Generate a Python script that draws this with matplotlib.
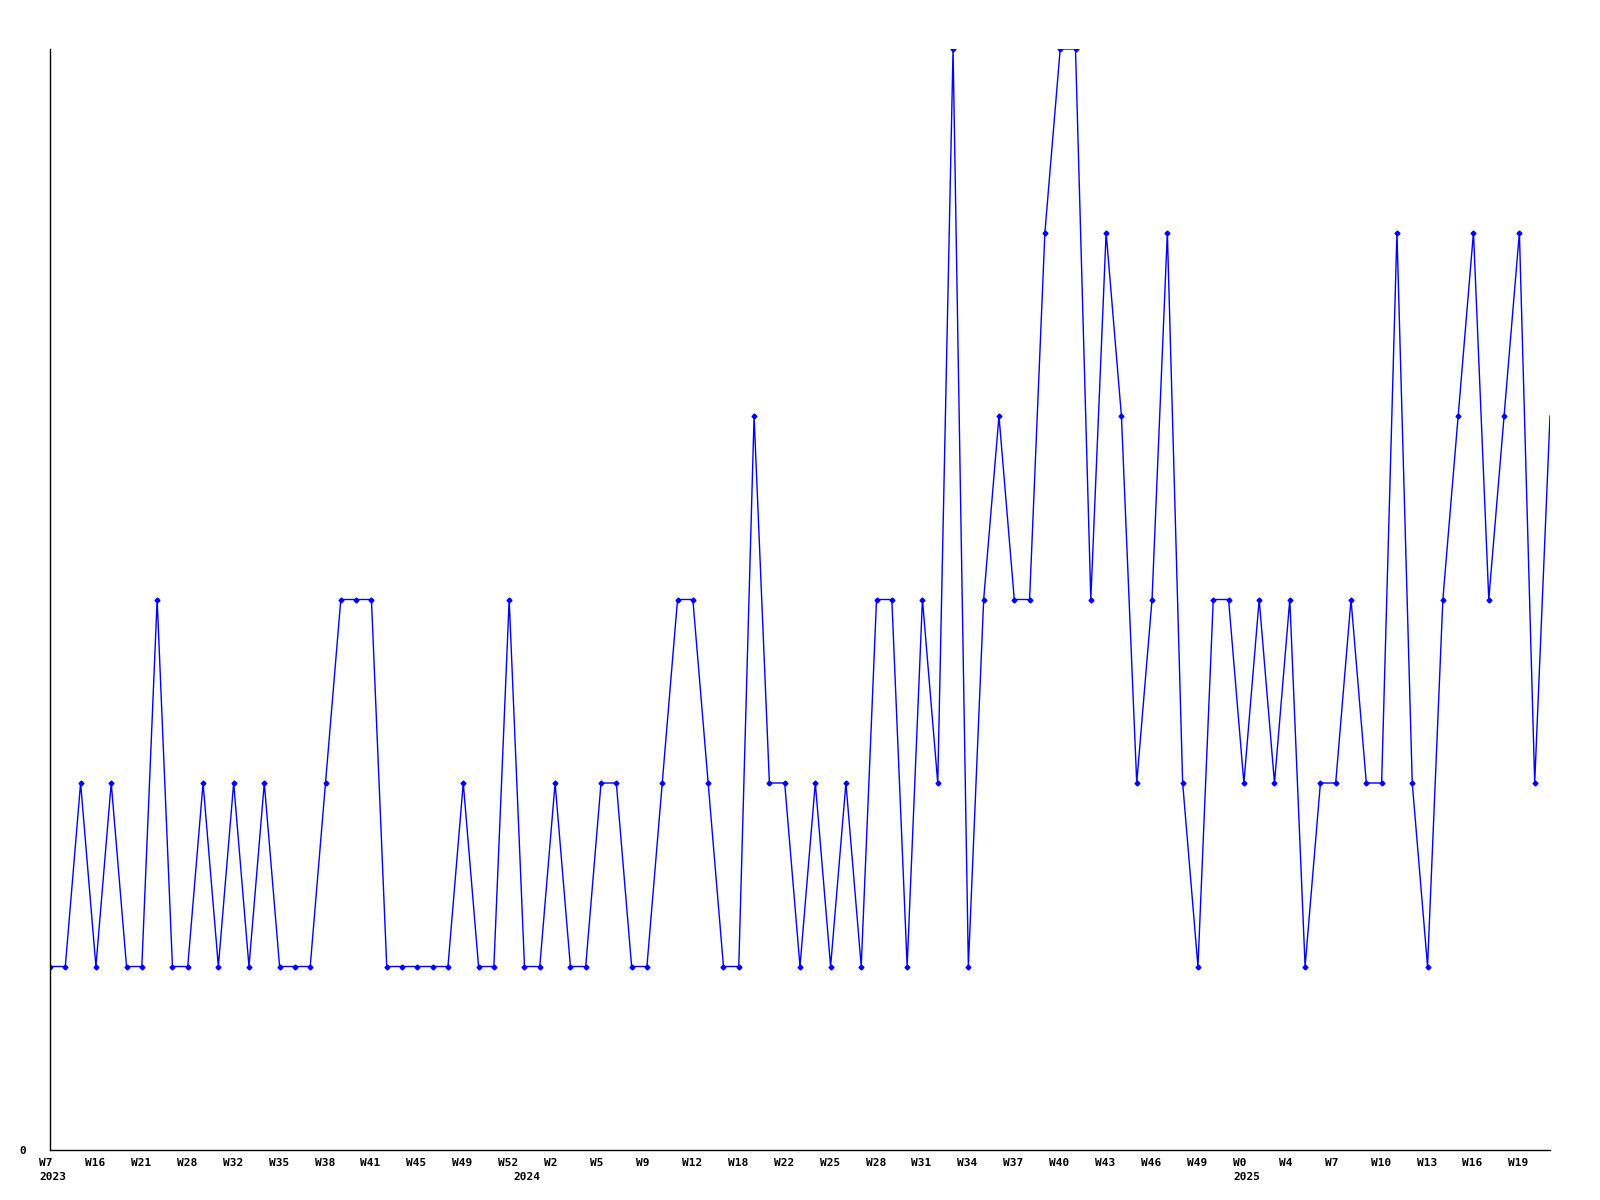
import matplotlib
matplotlib.use("Agg")
import matplotlib.pyplot as plt
import matplotlib.transforms as mtransforms

# ── Data ───────────────────────────────────────────────────────────────────────
counts = [
    1, 1, 2, 1, 2, 1, 1, 3, 1, 1, 2, 1, 2, 1, 2, 1, 1, 1, 2, 3,
    3, 3, 1, 1, 1, 1, 1, 2, 1, 1, 3, 1, 1, 2, 1, 1, 2, 2, 1, 1,
    2, 3, 3, 2, 1, 1, 4, 2, 2, 1, 2, 1, 2, 1, 3, 3, 1, 3, 2, 6,
    1, 3, 4, 3, 3, 5, 6, 6, 3, 5, 4, 2, 3, 5, 2, 1, 3, 3, 2, 3,
    2, 3, 1, 2, 2, 3, 2, 2, 5, 2, 1, 3, 4, 5, 3, 4, 5, 2, 4,
]

week_labels = [
    'W7', 'W16', 'W21', 'W28', 'W32', 'W35', 'W38', 'W41', 'W45', 'W49', 'W52',
    'W2', 'W5', 'W9', 'W12', 'W18', 'W22', 'W25', 'W28', 'W31', 'W34', 'W37',
    'W40', 'W43', 'W46', 'W49', 'W0', 'W4', 'W7', 'W10', 'W13', 'W16', 'W19',
]
years = ['2023', '2024', '2025']
year_start = [0, 31, 78]   # index of the first week of each year

# ── Plot ───────────────────────────────────────────────────────────────────────
fig = plt.figure(figsize=(16, 12), dpi=100)
ax = fig.add_axes([50 / 1600, 50 / 1200, 1500 / 1600, 1101 / 1200])

x = list(range(len(counts)))
ax.plot(x, counts, color='#0000ff', linewidth=1.0, marker='D', markersize=2.5,
        markevery=list(range(len(counts) - 1)))

ax.set_xlim(0, len(counts) - 1)
ax.set_ylim(0, 6)

for side in ['top', 'right']:
    ax.spines[side].set_visible(False)
for side in ['left', 'bottom']:
    ax.spines[side].set_linewidth(1.0)
    ax.spines[side].set_color('black')

lab_font = dict(family='DejaVu Sans Mono', fontweight='bold', fontsize=8)

ax.set_xticks(list(range(0, 3 * len(week_labels), 3)))
ax.set_xticklabels(week_labels, **lab_font)
ax.tick_params(axis='x', length=0, pad=6)

# week labels start a little left of their tick
left_shift = mtransforms.ScaledTranslation(-11 / 100, 0, fig.dpi_scale_trans)
for lbl in ax.get_xticklabels():
    lbl.set_horizontalalignment('left')
    lbl.set_transform(lbl.get_transform() + left_shift)

# year under the first week of each year
trans = mtransforms.blended_transform_factory(ax.transData, ax.transAxes)
shift = mtransforms.ScaledTranslation(-11 / 100, -27 / 100, fig.dpi_scale_trans)
for yr, idx in zip(years, year_start):
    ax.text(idx, 0, yr, transform=trans + shift, ha='left', va='center',
            clip_on=False, **lab_font)

ax.set_yticks([0])
ax.set_yticklabels(['0'], **lab_font)
ax.tick_params(axis='y', length=0, pad=17)

fig.savefig('out.png', dpi=100)
plt.close(fig)
